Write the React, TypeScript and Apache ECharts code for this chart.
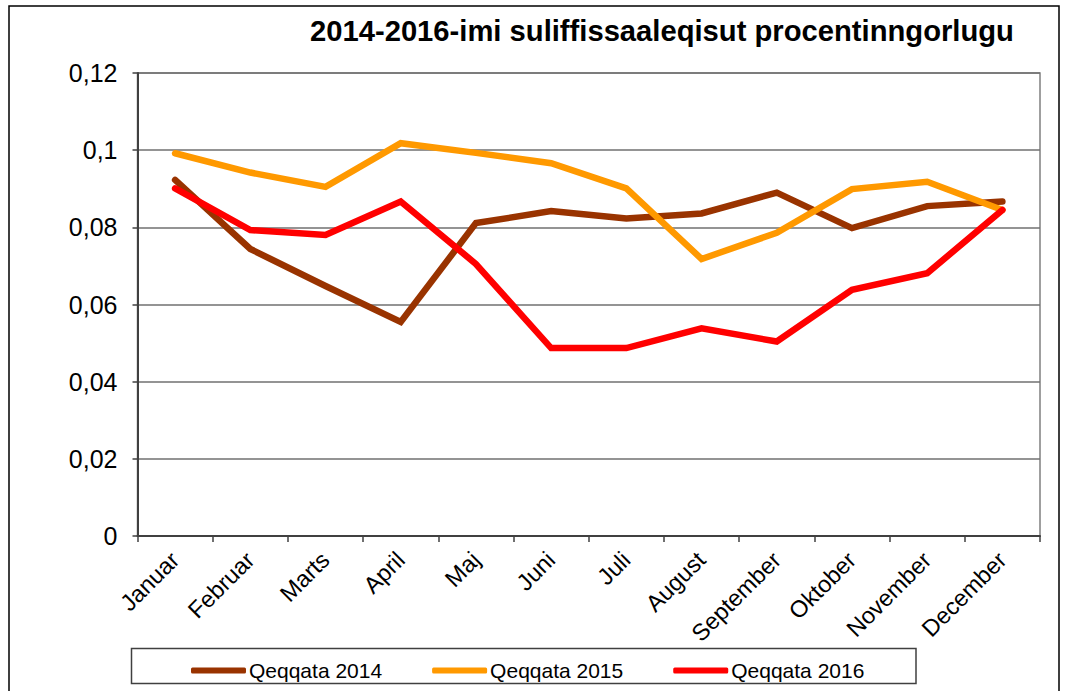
import React, { useEffect, useRef } from "react";
import * as echarts from "echarts";

const months = ["Januar", "Februar", "Marts", "April", "Maj", "Juni", "Juli", "August", "September", "Oktober", "November", "December"];
const q2014 = [0.0923, 0.0744, 0.0648, 0.0555, 0.0811, 0.0842, 0.0823, 0.0836, 0.089, 0.0798, 0.0855, 0.0867];
const q2015 = [0.0992, 0.0942, 0.0905, 0.1018, 0.0993, 0.0966, 0.0901, 0.0718, 0.0786, 0.0899, 0.0918, 0.0845];
const q2016 = [0.0901, 0.0793, 0.078, 0.0867, 0.0705, 0.0487, 0.0487, 0.0538, 0.0504, 0.0638, 0.0681, 0.0845];
const seriesNames = ["Qeqqata 2014", "Qeqqata 2015", "Qeqqata 2016"];
const colors = ["#993300", "#FF9900", "#FF0000"];
const title = "2014-2016-imi suliffissaaleqisut procentinngorlugu";

const FONT = 'Arial, "Liberation Sans", sans-serif';

export default function App() {
  const ref = useRef<HTMLDivElement>(null);
  useEffect(() => {
    if (!ref.current) return;
    const chart = echarts.init(ref.current, undefined, { renderer: "svg" });
    const data = [q2014, q2015, q2016];
    chart.setOption({
      animation: false,
      backgroundColor: "#ffffff",
      title: {
        text: title,
        left: 305,
        top: 11,
        textStyle: { fontFamily: FONT, fontSize: 29.2, fontWeight: "bold", color: "#000" },
      },
      legend: {
        left: 186,
        top: 655,
        itemWidth: 55,
        itemHeight: 6,
        itemGap: 50,
        icon: "roundRect",
        textStyle: { fontFamily: FONT, fontSize: 21, color: "#000", padding: [0, 0, 0, -2] },
        data: seriesNames,
      },
      grid: {
        left: 137.5,
        top: 73,
        right: 27,
        bottom: 155,
        show: true,
        borderColor: "#808080",
        borderWidth: 1.5,
        backgroundColor: "#ffffff",
      },
      xAxis: {
        type: "category",
        data: months,
        boundaryGap: true,
        axisLine: { lineStyle: { color: "#404040", width: 2 } },
        axisTick: { show: true, length: 6, inside: false, lineStyle: { color: "#404040", width: 1.5 } },
        axisLabel: { rotate: 45, margin: 20, fontFamily: FONT, fontSize: 23.5, color: "#000" },
        splitLine: { show: false },
      },
      yAxis: {
        type: "value",
        min: 0,
        max: 0.12,
        interval: 0.02,
        axisLine: { show: true, lineStyle: { color: "#404040", width: 2 } },
        axisTick: { show: true, length: 5, lineStyle: { color: "#404040", width: 1.5 } },
        axisLabel: {
          margin: 20,
          fontFamily: FONT,
          fontSize: 25,
          color: "#000",
          formatter: (v: number) => String(+v.toFixed(2)).replace(".", ","),
        },
        splitLine: { show: true, lineStyle: { color: "#707070", width: 1.5 } },
      },
      series: seriesNames.map((name, i) => ({
        name,
        type: "line",
        data: data[i],
        symbol: "none",
        lineStyle: { color: colors[i], width: 6.5, cap: "round", join: "miter" },
        itemStyle: { color: colors[i] },
        z: 3 + i,
      })),
      graphic: [
        {
          type: "rect",
          shape: { x: 9, y: 6, width: 1050, height: 700 },
          style: { fill: "none", stroke: "#000", lineWidth: 1.5 },
          silent: true,
          z: -1,
        },
        {
          type: "rect",
          shape: { x: 131.5, y: 648.5, width: 784.5, height: 35 },
          style: { fill: "none", stroke: "#404040", lineWidth: 1.5 },
          silent: true,
        },
      ],
    });
    return () => chart.dispose();
  }, []);
  return (
    <div
      ref={ref}
      style={{ position: "fixed", left: 0, top: 0, width: 1067, height: 691 }}
    />
  );
}
